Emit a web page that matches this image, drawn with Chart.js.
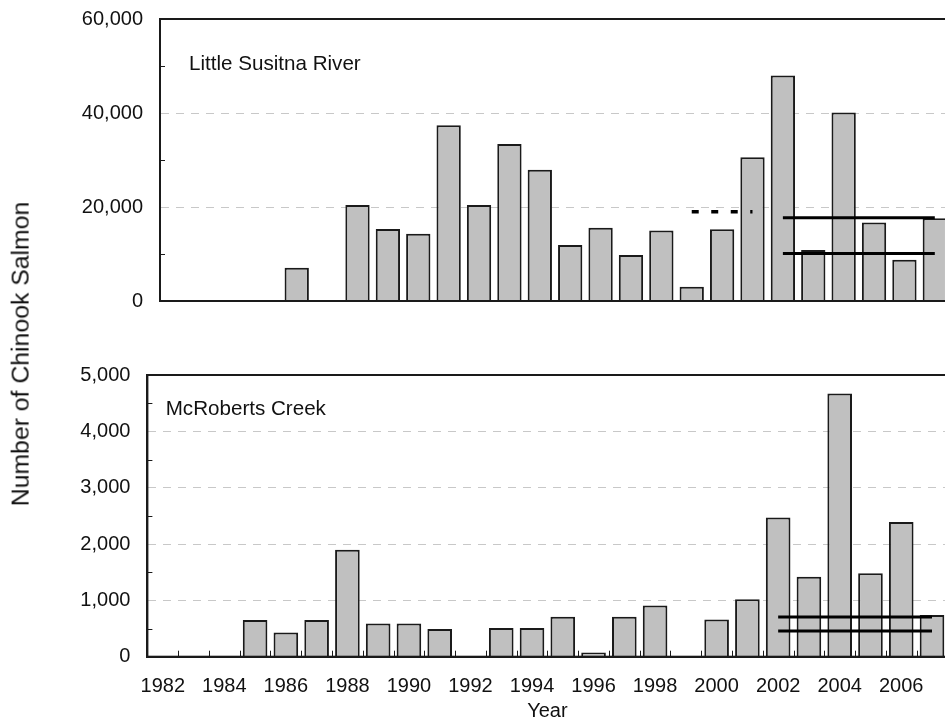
<!DOCTYPE html>
<html>
<head>
<meta charset="utf-8">
<title>Chinook salmon escapement</title>
<script src="https://cdn.jsdelivr.net/npm/chart.js@4.4.1/dist/chart.umd.min.js"></script>
<style>
  html, body { margin: 0; padding: 0; background: #fff; overflow: hidden; }
  body { width: 945px; height: 723px; position: relative; }
  canvas { position: absolute; left: 0; }
  #topPanel { top: 0; }
  #bottomPanel { top: 360px; }
  #yTitle {
    position: absolute; left: 21px; top: 354px;
    transform: translate(-50%, -50%) rotate(-90deg);
    font: 24.8px "Liberation Sans", Arial, sans-serif;
    line-height: 1; white-space: nowrap; color: #111;
  }
</style>
</head>
<body>
<canvas id="topPanel" width="950" height="320"></canvas>
<canvas id="bottomPanel" width="950" height="363"></canvas>
<div id="yTitle">Number of Chinook Salmon</div>
<script>
// escapement counts by year, null = no count
const years = ['1982', '1983', '1984', '1985', '1986', '1987', '1988', '1989', '1990',
  '1991', '1992', '1993', '1994', '1995', '1996', '1997', '1998', '1999', '2000',
  '2001', '2002', '2003', '2004', '2005', '2006', '2007'];

const littleSusitna = [null, null, null, null, 7100, null, 20400, 15300, 14300,
  37400, 20400, 33400, 27900, 11900, 15600, 9800, 15000, 3050, 15250,
  30600, 48000, 10850, 40100, 16700, 8800, 17600];

const mcRoberts = [null, null, null, 650, 430, 650, 1900, 590, 590,
  490, null, 510, 510, 710, 75, 710, 910, null, 660,
  1020, 2470, 1420, 4670, 1480, 2390, 740];

// escapement goals (start year, end year)
const lsOldGoalYears = ['1999', '2001'];
const lsOldGoal = 19000;
const lsGoalYears = ['2002', '2007'];
const lsGoalLower = 10100;
const lsGoalUpper = 17700;
const mcGoalYears = ['2002', '2007'];
const mcGoalLower = 455;
const mcGoalUpper = 705;

const FONT = "'Liberation Sans', Arial, Helvetica, sans-serif";
const INK = '#1a1a1a';
Chart.defaults.font.family = FONT;
Chart.defaults.color = '#111';

// frame, inner minor ticks, year ticks and the river name inside the plot
const panelDecor = {
  id: 'panelDecor',
  afterDatasetsDraw(chart, args, o) {
    const { ctx, chartArea: a, scales: { x, y } } = chart;
    ctx.save();
    ctx.strokeStyle = INK;
    ctx.lineWidth = 1;
    const vals = y.ticks.map(t => t.value);
    for (let i = 0; i < vals.length - 1; i++) {
      const py = Math.round(y.getPixelForValue((vals[i] + vals[i + 1]) / 2)) + 0.5;
      ctx.beginPath();
      ctx.moveTo(a.left, py);
      ctx.lineTo(a.left + 5, py);
      ctx.stroke();
    }
    if (o.yearTicks) {
      for (let i = 0; i < x.ticks.length - 1; i++) {
        const px = Math.round((x.getPixelForTick(i) + x.getPixelForTick(i + 1)) / 2) + 0.5;
        ctx.beginPath();
        ctx.moveTo(px, a.bottom);
        ctx.lineTo(px, a.bottom - 6);
        ctx.stroke();
      }
    }
    ctx.lineWidth = 2;
    ctx.strokeRect(a.left, a.top, a.right - a.left, a.bottom - a.top);
    ctx.font = '20.6px ' + FONT;
    ctx.fillStyle = '#111';
    ctx.textBaseline = 'alphabetic';
    ctx.fillText(o.label, a.left + o.labelX, a.top + o.labelY);
    ctx.restore();
  }
};

function goalLine(yearsSpan, value, dash) {
  return {
    type: 'line',
    data: [{ x: yearsSpan[0], y: value }, { x: yearsSpan[1], y: value }],
    borderColor: '#000',
    borderWidth: dash ? 3.5 : 3,
    borderDash: dash || [],
    borderCapStyle: 'butt',
    pointRadius: 0,
    fill: false,
    order: 0
  };
}

function barSet(values) {
  return {
    type: 'bar',
    data: values,
    backgroundColor: '#c0c0c0',
    borderColor: INK,
    borderWidth: 2,
    barPercentage: 0.8,
    categoryPercentage: 1.0,
    order: 1
  };
}

function yAxis(max, step, width) {
  return {
    min: 0,
    max: max,
    ticks: {
      stepSize: step,
      padding: 17,
      font: { size: 20 },
      color: '#111',
      callback: v => v.toLocaleString('en-US')
    },
    grid: {
      drawTicks: false,
      lineWidth: 1,
      color: c => (c.tick.value === 0 || c.tick.value === max) ? 'rgba(0,0,0,0)' : '#c8c8c8'
    },
    border: { color: INK, width: 2, dash: [8, 7] },
    afterFit: s => {
      s.width = width;
      // the label padding would otherwise push the plot area in
      s.paddingTop = 0;
      s.paddingBottom = 0;
    }
  };
}

const common = {
  responsive: false,
  animation: false,
  plugins: { legend: { display: false }, tooltip: { enabled: false } }
};

// Little Susitna River
new Chart(document.getElementById('topPanel'), {
  data: {
    labels: years,
    datasets: [
      barSet(littleSusitna),
      goalLine(lsOldGoalYears, lsOldGoal, [7, 12.5]),
      goalLine(lsGoalYears, lsGoalUpper),
      goalLine(lsGoalYears, lsGoalLower)
    ]
  },
  options: {
    ...common,
    layout: { padding: { top: 19, left: 0, right: 0, bottom: 0 } },
    scales: {
      x: {
        offset: true,
        grid: { display: false, drawTicks: false },
        border: { color: INK, width: 2 },
        ticks: { display: false },
        afterFit: s => { s.height = 19; }
      },
      y: yAxis(60000, 20000, 160)
    },
    plugins: {
      ...common.plugins,
      panelDecor: { label: 'Little Susitna River', labelX: 29, labelY: 50.5, yearTicks: false }
    }
  },
  plugins: [panelDecor]
});

// McRoberts Creek
new Chart(document.getElementById('bottomPanel'), {
  data: {
    labels: years,
    datasets: [
      barSet(mcRoberts),
      goalLine(mcGoalYears, mcGoalUpper),
      goalLine(mcGoalYears, mcGoalLower)
    ]
  },
  options: {
    ...common,
    layout: { padding: { top: 15, left: 0, right: 0, bottom: 0 } },
    scales: {
      x: {
        offset: true,
        grid: { display: false, drawTicks: false },
        border: { color: INK, width: 2 },
        ticks: {
          autoSkip: false,
          maxRotation: 0,
          padding: 18,
          font: { size: 20 },
          color: '#111',
          callback: function (v, i) {
            const yr = this.getLabelForValue(v);
            return Number(yr) % 2 === 0 ? yr : '';
          }
        },
        title: { display: true, text: 'Year', font: { size: 20 }, color: '#111', padding: { top: 0, bottom: 0 } },
        afterFit: s => { s.height = 66.3; }
      },
      y: yAxis(5000, 1000, 147.4)
    },
    plugins: {
      ...common.plugins,
      panelDecor: { label: 'McRoberts Creek', labelX: 18.3, labelY: 40, yearTicks: true }
    }
  },
  plugins: [panelDecor]
});
</script>
</body>
</html>
